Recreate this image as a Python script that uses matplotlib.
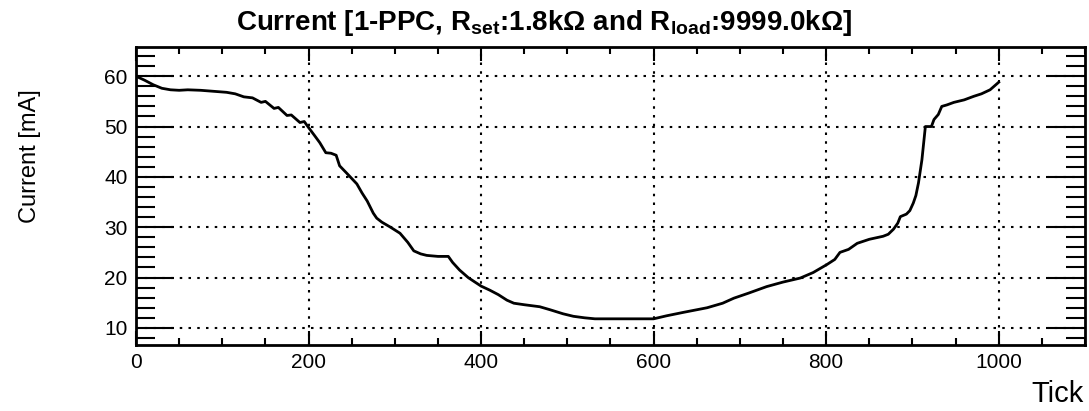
import matplotlib
matplotlib.use("Agg")
import matplotlib.pyplot as plt
from matplotlib.ticker import MultipleLocator

plt.rcParams['font.family'] = 'Liberation Sans'
plt.rcParams['mathtext.fontset'] = 'custom'
plt.rcParams['mathtext.rm'] = 'Liberation Sans:bold'
plt.rcParams['mathtext.it'] = 'Liberation Sans:bold'
plt.rcParams['mathtext.bf'] = 'Liberation Sans:bold'

# values
tick = [0, 10, 20, 30, 40, 50, 60, 75, 90, 105, 115, 125, 135, 145, 150, 160, 165,
        175, 180, 190, 195, 200, 207, 213, 220, 226, 232, 236, 245, 256, 262, 268,
        275, 279, 285, 295, 306, 315, 322, 330, 337, 350, 362, 367, 375, 385, 392,
        400, 410, 420, 430, 438, 450, 468, 480, 495, 507, 520, 532, 560, 600, 615,
        635, 650, 662, 680, 693, 710, 731, 750, 770, 785, 801, 810, 816, 826, 836,
        850, 866, 872, 878, 883, 886, 893, 897, 901, 904, 907, 911, 915, 922, 925,
        930, 934, 940, 948, 960, 971, 980, 990, 1000]
current = [60.0, 59.2, 58.3, 57.6, 57.3, 57.2, 57.3, 57.2, 57.0, 56.8, 56.5, 55.9,
           55.7, 54.8, 55.0, 53.6, 53.8, 52.2, 52.3, 50.8, 51.0, 49.8, 48.2, 46.8,
           44.8, 44.7, 44.3, 42.2, 40.6, 38.6, 36.8, 35.2, 32.8, 31.8, 31.0, 30.0,
           28.8, 27.0, 25.3, 24.7, 24.4, 24.2, 24.2, 23.0, 21.5, 20.0, 19.2, 18.3,
           17.5, 16.6, 15.5, 14.9, 14.6, 14.2, 13.6, 12.8, 12.3, 12.0, 11.8, 11.8,
           11.8, 12.4, 13.1, 13.6, 14.0, 14.9, 15.9, 16.9, 18.2, 19.1, 19.9, 21.0,
           22.6, 23.6, 25.0, 25.6, 26.8, 27.6, 28.2, 28.6, 29.6, 30.8, 32.1, 32.6,
           33.3, 34.8, 36.3, 38.8, 43.4, 50.0, 50.0, 51.4, 52.4, 54.0, 54.3, 54.8,
           55.3, 56.0, 56.5, 57.3, 58.8]

fig = plt.figure(figsize=(10.89, 4.11), dpi=100)
ax = fig.add_axes([0.1249, 0.1606, 0.8714, 0.725])

ax.plot(tick, current, color='black', lw=2)

ax.set_xlim(0, 1100)
ax.set_ylim(6.6, 65.8)
ax.xaxis.set_major_locator(MultipleLocator(200))
ax.xaxis.set_minor_locator(MultipleLocator(50))
ax.yaxis.set_major_locator(MultipleLocator(10))
ax.yaxis.set_minor_locator(MultipleLocator(2))

ax.tick_params(axis='both', which='both', direction='in', top=True, right=True,
               labelsize=15, width=1.5, pad=6)
ax.tick_params(axis='x', which='major', length=10)
ax.tick_params(axis='x', which='minor', length=5)
ax.tick_params(axis='y', which='major', length=27)
ax.tick_params(axis='y', which='minor', length=14)
for s in ax.spines.values():
    s.set_linewidth(2)

ax.grid(True, which='major', color='black', linestyle=(0, (1.2, 3)), lw=1.5)

fig.text(0.5, 0.945,
         r'Current [1-PPC, R$_{\mathrm{set}}$:1.8k$\Omega$ and R$_{\mathrm{load}}$:9999.0k$\Omega$]',
         fontsize=20, fontweight='bold', ha='center', va='center')
fig.text(0.028, 0.62, 'Current [mA]', rotation=90, fontsize=17, ha='center', va='center')
fig.text(0.995, 0.008, 'Tick', fontsize=21, ha='right', va='bottom')

fig.savefig('out.png', dpi=100)
